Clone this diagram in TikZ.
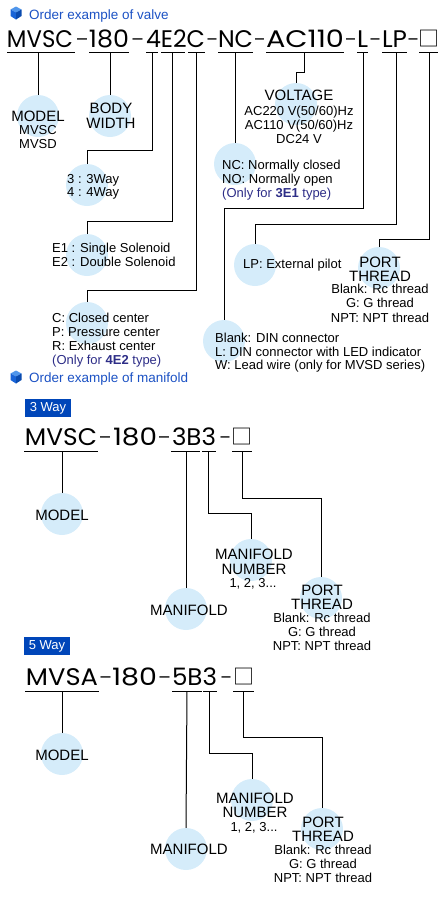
\documentclass[tikz,border=0pt]{standalone}
\usepackage{graphicx}
\usepackage{fontspec}
\setmainfont{Liberation Sans}
\newfontfamily\codefont{Poppins}
\newfontfamily\cjkfont{Noto Sans CJK JP}
\newcommand\fitw[2]{\resizebox{#1pt}{\height}{#2}}
\definecolor{bub}{RGB}{213,236,250}
\definecolor{hdr}{RGB}{28,82,196}
\definecolor{navy}{RGB}{45,45,135}
\definecolor{tagblue}{RGB}{0,70,185}
\definecolor{cubeT}{RGB}{80,150,235}
\definecolor{cubeL}{RGB}{25,100,215}
\definecolor{cubeR}{RGB}{10,75,175}
\tikzset{
  bubble/.style={circle, fill=bub, minimum size=42pt, inner sep=0pt},
  code/.style={font=\codefont\fontsize{24}{24}\selectfont, anchor=base, inner sep=0pt},
  dsh/.style={font=\fontsize{20}{20}\selectfont, anchor=base, inner sep=0pt, yshift=3pt},
  sq/.style={font=\cjkfont\fontsize{21}{21}\selectfont, anchor=base, inner sep=0pt},
  ttl/.style={font=\fontsize{15}{15}\selectfont, anchor=base, inner sep=0pt},
  lbl/.style={font=\fontsize{13}{14}\selectfont, anchor=base west, inner sep=0pt},
  lblc/.style={font=\fontsize{13}{14}\selectfont, anchor=base, inner sep=0pt},
  hdrtext/.style={font=\fontsize{13.5}{14}\selectfont, text=hdr, anchor=base west, inner sep=0pt},
  tag/.style={fill=tagblue, text=white, font=\fontsize{13}{13}\selectfont, minimum width=46pt, minimum height=18pt, inner sep=0pt},
  uline/.style={line width=1pt},
  conn/.style={line width=1pt},
  bluecube/.pic={
    \fill[cubeT] (0,-6.5) -- (5.5,-3.5) -- (0,-0.5) -- (-5.5,-3.5) -- cycle;
    \fill[cubeL] (-5.5,-3.5) -- (0,-0.5) -- (0,6.5) -- (-5.5,3) -- cycle;
    \fill[cubeR] (5.5,-3.5) -- (0,-0.5) -- (0,6.5) -- (5.5,3) -- cycle;
  }
}
\begin{document}
\begin{tikzpicture}[x=1pt,y=-1pt]
\useasboundingbox (0,0) rectangle (440,900);
% ---------------- valve ----------------
\pic at (16,13) {bluecube};
\node[hdrtext] (hValve) at (29,19) {Order example of valve};
\node[code] (cMVSC) at (40,47) {\fitw{66}{MVSC}};
\node[dsh] (d1) at (82,47) {\fitw{10}{–}};
\node[code] (c180) at (109,47) {\fitw{40}{180}};
\node[dsh] (d2) at (137.5,47) {\fitw{10}{–}};
\node[code] (c4E2C) at (175.5,47) {\fitw{59}{4E2C}};
\node[dsh] (d3) at (212,47) {\fitw{9}{–}};
\node[code] (cNC) at (235.5,47) {\fitw{35}{NC}};
\node[dsh] (d4) at (259.5,47) {\fitw{9}{–}};
\node[code] (cAC) at (305,47) {\fitw{78}{AC110}};
\node[dsh] (d5) at (350.5,47) {\fitw{9}{–}};
\node[code] (cL) at (362.5,47) {\fitw{11}{L}};
\node[dsh] (d6) at (375,47) {\fitw{9}{–}};
\node[code] (cLP) at (394.5,47) {\fitw{25}{LP}};
\node[dsh] (d7) at (413,47) {\fitw{9}{–}};
\node[sq] (cSq) at (428.5,46) {□};
\foreach \a/\b in {7/75,89/129,146/158,161/185,188/205,218/253,266/344,357/368,382/407,419/438}
  \draw[uline] (\a,52) -- (\b,52);
\coordinate (sModel) at (38,52);
\coordinate (sBody) at (110,52);
\coordinate (s4) at (152,52);
\coordinate (sE) at (172,52);
\coordinate (sC) at (196,52);
\coordinate (sNC) at (235,52);
\coordinate (sAC) at (304,52);
\coordinate (sL) at (363,52);
\coordinate (sLP) at (396,52);
\coordinate (sSq) at (429,52);
% bubbles
\node[bubble] (bModel) at (38,116) {};
\node[bubble] (bBody) at (110,116) {};
\node[bubble] (bWay) at (87,185) {};
\node[bubble] (bSol) at (87,255) {};
\node[bubble] (bCen) at (87,323) {};
\node[bubble] (bVolt) at (296,104) {};
\node[bubble] (bNC) at (235,164) {};
\node[bubble] (bLP) at (255,265) {};
\node[bubble] (bPort) at (379,268) {};
\node[bubble] (bDIN) at (224,341) {};
% connectors
\draw[conn] (sModel) -- (bModel.north);
\draw[conn] (sBody) -- (bBody.north);
\draw[conn] (s4) -- ++(0,98) -| (bWay.north);
\draw[conn] (sE) -- ++(0,169) -| (bSol.north);
\draw[conn] (sC) -- ++(0,238) -| (bCen.north);
\draw[conn] (sNC) -- (bNC.north);
\draw[conn] (sAC) -- ++(0,20) -| (bVolt.north);
\draw[conn] (sL) -- ++(0,156) -| (bDIN.north);
\draw[conn] (sLP) -- ++(0,172) -| (bLP.north);
\draw[conn] (sSq) -- ++(0,187) -| (bPort.north);
% texts
\node[ttl] (tModel) at (38,121.4) {MODEL};
\node[lblc] (tModelA) at (38,134.7) {MVSC};
\node[lblc] (tModelB) at (38,148.7) {MVSD};
\node[ttl] (tBody) at (111,113.4) {BODY};
\node[ttl] (tWidth) at (111,128.4) {WIDTH};
\node[lbl] (tW3) at (67,183.7) {3 : 3Way};
\node[lbl] (tW4) at (67,196.7) {4 : 4Way};
\node[lbl] (tE1) at (52,252.7) {E1 : Single Solenoid};
\node[lbl] (tE2) at (52,266.7) {E2 : Double Solenoid};
\node[lbl] (tCc) at (52,322.7) {C: Closed center};
\node[lbl] (tCp) at (52,336.7) {P: Pressure center};
\node[lbl] (tCr) at (52,350.7) {R: Exhaust center};
\node[lbl, text=navy] (tCo) at (52,364.7) {(Only for \textbf{4E2} type)};
\node[ttl] (tVolt) at (299,100.4) {VOLTAGE};
\node[lblc] (tV1) at (299,115.7) {AC220 V(50/60)Hz};
\node[lblc] (tV2) at (299,129.2) {AC110 V(50/60)Hz};
\node[lblc] (tV3) at (299,143.5) {DC24 V};
\node[lbl] (tNC) at (222,169.7) {NC: Normally closed};
\node[lbl] (tNO) at (222,183.7) {NO: Normally open};
\node[lbl, text=navy] (tNCo) at (222,197.7) {(Only for \textbf{3E1} type)};
\node[lbl] (tLP) at (243,268.7) {LP: External pilot};
\node[ttl] (tPort) at (380,267.4) {PORT};
\node[ttl] (tThr) at (380,281.2) {THREAD};
\node[lblc] (tP1) at (380,293) {Blank: Rc thread};
\node[lblc] (tP2) at (380,307.5) {G: G thread};
\node[lblc] (tP3) at (380,322) {NPT: NPT thread};
\node[lbl] (tD1) at (215,342.5) {Blank: DIN connector};
\node[lbl] (tD2) at (215,356) {L: DIN connector with LED indicator};
\node[lbl] (tD3) at (215,369.5) {W: Lead wire (only for MVSD series)};
% ---------------- manifold ----------------
\pic at (16,377) {bluecube};
\node[hdrtext] (hMan) at (29,382) {Order example of manifold};
% 3 way
\node[tag] (tag3) at (48,408) {3 Way};
\node[code] (mA) at (61,445) {\fitw{72}{MVSC}};
\node[dsh] (mD1) at (105,445) {\fitw{10}{–}};
\node[code] (mB) at (135,445) {\fitw{44}{180}};
\node[dsh] (mD2) at (164,445) {\fitw{10}{–}};
\node[code] (mC) at (194,445) {\fitw{44}{3B3}};
\node[dsh] (mD3) at (225,445) {\fitw{9}{–}};
\node[sq] (mSq) at (241.5,444) {□};
\foreach \a/\b in {24/98,171/200,202/216,232/252}
  \draw[uline] (\a,451) -- (\b,451);
\coordinate (sM1) at (62,451);
\coordinate (sB1) at (186,451);
\coordinate (sN1) at (208,451);
\coordinate (sP1) at (242,451);
\node[bubble] (bM1) at (62,514) {};
\node[bubble] (bMan1) at (186,609) {};
\node[bubble] (bNum1) at (251,560) {};
\node[bubble] (bPort1) at (321,598) {};
\draw[conn] (sM1) -- (bM1.north);
\draw[conn] (sB1) -- (bMan1.north);
\draw[conn] (sN1) -- ++(0,62) -| (bNum1.north);
\draw[conn] (sP1) -- ++(0,47) -| (bPort1.north);
\node[ttl] (tM1) at (62,520.4) {MODEL};
\node[ttl] (tMan1) at (189,615.4) {MANIFOLD};
\node[ttl] (tNum1a) at (254,559.4) {MANIFOLD};
\node[ttl] (tNum1b) at (254,574.4) {NUMBER};
\node[lblc] (tNum1c) at (253,587.7) {1, 2, 3...};
\node[ttl] (tPo1a) at (322,595.4) {PORT};
\node[ttl] (tPo1b) at (322,609.4) {THREAD};
\node[lblc] (tPo1c) at (322,622) {Blank: Rc thread};
\node[lblc] (tPo1d) at (322,636.4) {G: G thread};
\node[lblc] (tPo1e) at (322,650.4) {NPT: NPT thread};
% 5 way
\node[tag] (tag5) at (47,646) {5 Way};
\node[code] (nA) at (62,685) {\fitw{72}{MVSA}};
\node[dsh] (nD1) at (105.5,685) {\fitw{10}{–}};
\node[code] (nB) at (134.5,685) {\fitw{45}{180}};
\node[dsh] (nD2) at (164.5,685) {\fitw{10}{–}};
\node[code] (nC) at (194.5,685) {\fitw{45}{5B3}};
\node[dsh] (nD3) at (226,685) {\fitw{9}{–}};
\node[sq] (nSq) at (243.5,684) {□};
\foreach \a/\b in {25/99,172/202,203/217,233/254}
  \draw[uline] (\a,691) -- (\b,691);
\coordinate (sM2) at (62,691);
\coordinate (sB2) at (187,691);
\coordinate (sN2) at (209,691);
\coordinate (sP2) at (243,691);
\node[bubble] (bM2) at (62,754) {};
\node[bubble] (bMan2) at (186,849) {};
\node[bubble] (bNum2) at (252,800) {};
\node[bubble] (bPort2) at (322,829) {};
\draw[conn] (sM2) -- (bM2.north);
\draw[conn] (sB2) -- (bMan2.north);
\draw[conn] (sN2) -- ++(0,62) -| (bNum2.north);
\draw[conn] (sP2) -- ++(0,46) -| (bPort2.north);
\node[ttl] (tM2) at (62,760) {MODEL};
\node[ttl] (tMan2) at (189,854.4) {MANIFOLD};
\node[ttl] (tNum2a) at (255,803.4) {MANIFOLD};
\node[ttl] (tNum2b) at (255,817.4) {NUMBER};
\node[lblc] (tNum2c) at (254,831.4) {1, 2, 3...};
\node[ttl] (tPo2a) at (323,827.4) {PORT};
\node[ttl] (tPo2b) at (323,841.4) {THREAD};
\node[lblc] (tPo2c) at (323,854) {Blank: Rc thread};
\node[lblc] (tPo2d) at (323,868) {G: G thread};
\node[lblc] (tPo2e) at (323,882) {NPT: NPT thread};
\end{tikzpicture}
\end{document}
